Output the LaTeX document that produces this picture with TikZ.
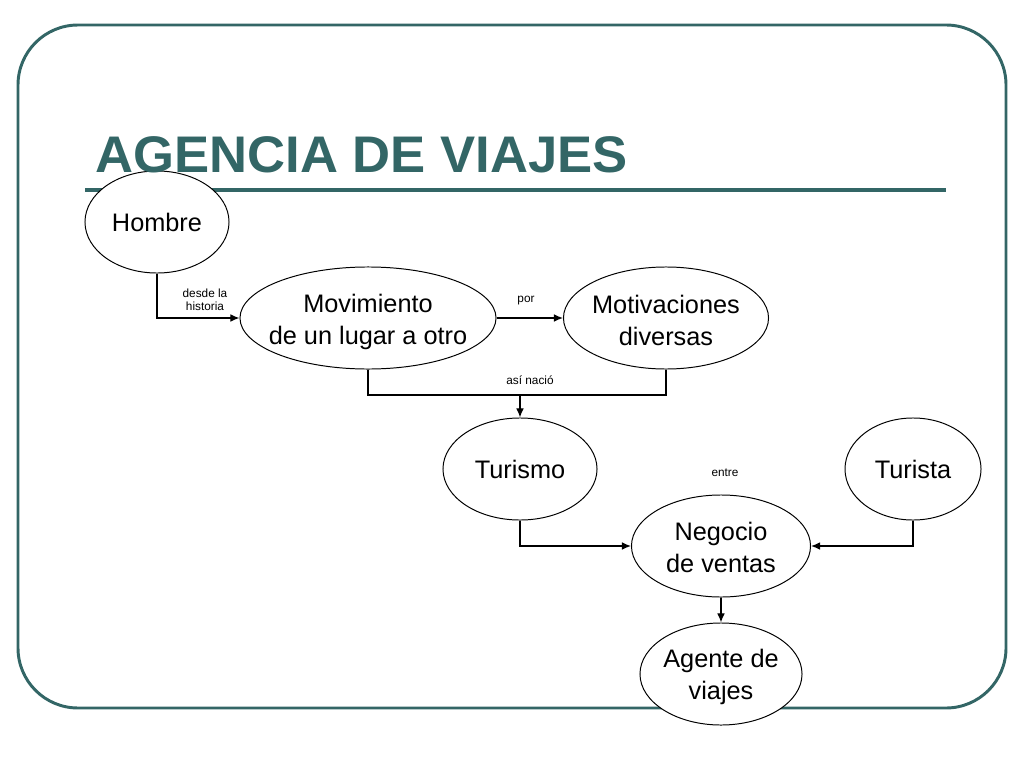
\documentclass[tikz,border=0pt]{standalone}
\usepackage{fontspec}
\setmainfont{Liberation Sans}
\newfontfamily\headfont{Liberation Sans Bold}[FakeStretch=1.023]
\usepackage{tikz}
\usetikzlibrary{shapes.geometric, arrows.meta, positioning}
\definecolor{slate}{RGB}{51,102,102}
\tikzset{
	bubble/.style={draw, ellipse, fill=white, line width=0.7pt, inner sep=0pt, minimum height=2.55cm},
	caption/.style={align=center, font=\fontsize{18}{22.7}\selectfont},
	tag/.style={align=center, font=\fontsize{8.4}{9.3}\selectfont},
	link/.style={->, >={Latex[length=6.5pt, width=5.5pt]}, line width=0.9pt}
}
\begin{document}
\begin{tikzpicture}[x=0.025cm, y=-0.025cm]
		\useasboundingbox (0,0) rectangle (1024,768);
		\draw[slate, line width=2.1pt, rounded corners=1.5cm] (18,25) rectangle (1006,708);
		\draw[slate, line width=3pt] (85,190) -- (946,190);
		
		\node[bubble, minimum width=3.6cm] (hombre) at (157,222) {};
		\node[caption] (hombre-t) at (hombre) {Hombre};
		
		\node[bubble, minimum width=6.4cm] (mov) at (368,318) {};
		\node[caption] (mov-t) at (368,322) {Movimiento\\ de un lugar a otro};
		
		\node[bubble, minimum width=5.125cm] (motiv) at (666,318) {};
		\node[caption] (motiv-t) at (666,320) {Motivaciones\\ diversas};
		
		\node[bubble, minimum width=3.85cm] (turismo) at (520,469) {};
		\node[caption] (turismo-t) at (turismo) {Turismo};
		
		\node[bubble, minimum width=3.4cm] (turista) at (913,469) {};
		\node[caption] (turista-t) at (turista) {Turista};
		
		\node[bubble, minimum width=4.475cm] (negocio) at (721,546) {};
		\node[caption] (negocio-t) at (721,547) {Negocio\\ de ventas};
		
		\node[bubble, minimum width=4.05cm] (agente) at (721,674) {};
		\node[caption] (agente-t) at (721,677) {Agente de\\ viajes};
		
		\node[anchor=base west, text=slate, inner sep=0pt, font=\fontsize{36.6}{40}\headfont] (title) at (95,172) {AGENCIA DE VIAJES};
		
		\node[tag] (desde) at (205,300) {desde la\\ historia};
		\node[tag] (por) at (526,301) {por};
		\node[tag] (nacio) at (530,380) {así nació};
		\node[tag] (entre) at (725,473) {entre};
	
	\coordinate (join) at (520,395);
	\draw[link] (hombre.south) |- (mov.west);
	\draw[link] (mov.east) -- (motiv.west);
	\draw[line width=0.9pt] (mov.south) |- (join) -| (motiv.south);
	\draw[link] (join) -- (turismo.north);
	\draw[link] (turismo.south) |- (negocio.west);
	\draw[link] (turista.south) |- (negocio.east);
	\draw[link] (negocio.south) -- (agente.north);
	\end{tikzpicture}
\end{document}
